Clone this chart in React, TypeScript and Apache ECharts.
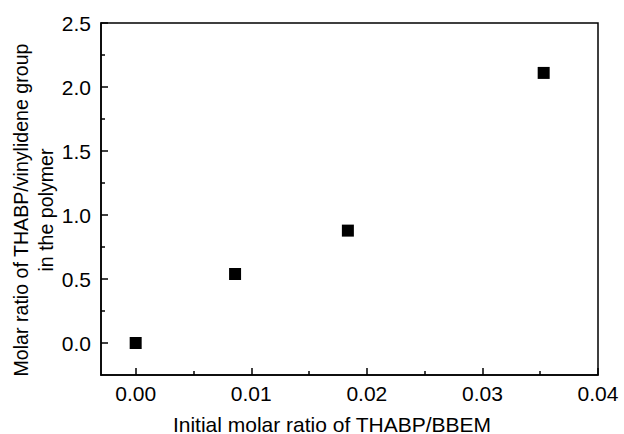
import React, { useEffect, useRef } from "react";
import * as echarts from "echarts";

const xValues = [0, 0.0086, 0.01836, 0.0353];
const yValues = [0, 0.539, 0.878, 2.11];
const xMajorTicks = [0, 0.01, 0.02, 0.03, 0.04];
const xMinorTicks = [0.005, 0.015, 0.025, 0.035];
const yMajorTicks = [0, 0.5, 1.0, 1.5, 2.0, 2.5];
const yMinorTicks = [0.25, 0.75, 1.25, 1.75, 2.25];
const xTitle = "Initial molar ratio of THABP/BBEM";
const yTitle1 = "Molar ratio of THABP/vinylidene group";
const yTitle2 = "in the polymer";

const FONT = "'Liberation Sans', Arial, sans-serif";

export default function App() {
  const ref = useRef<HTMLDivElement>(null);
  useEffect(() => {
    if (!ref.current) return;
    const chart = echarts.init(ref.current, null, { renderer: "svg" });
    const gridRect = { left: 101, right: 26, top: 23, bottom: 59 };
    const xBase = { min: -0.003, max: 0.04, type: "value" as const, position: "bottom" as const };
    const yBase = { min: -0.25, max: 2.5, type: "value" as const, position: "left" as const };
    const tickStyle = { color: "#000", width: 1.5 };
    chart.setOption({
      animation: false,
      grid: [
        {
          ...gridRect,
          show: true,
          borderColor: "#000",
          borderWidth: 1.5,
          backgroundColor: "transparent",
        },
        { ...gridRect, show: false },
      ],
      xAxis: [
        {
          ...xBase,
          gridIndex: 0,
          axisLine: { show: true, onZero: false, lineStyle: tickStyle },
          axisTick: { show: true, inside: true, length: 7, customValues: xMajorTicks, lineStyle: tickStyle },
          axisLabel: {
            show: true,
            customValues: xMajorTicks,
            margin: 8,
            color: "#000",
            fontSize: 21,
            fontFamily: FONT,
            formatter: (v: number) => v.toFixed(2),
          },
          splitLine: { show: false },
        },
        {
          ...xBase,
          gridIndex: 1,
          axisLine: { show: false, onZero: false },
          axisTick: { show: true, inside: true, length: 4, customValues: xMinorTicks, lineStyle: tickStyle },
          axisLabel: { show: false },
          splitLine: { show: false },
        },
      ],
      yAxis: [
        {
          ...yBase,
          gridIndex: 0,
          axisLine: { show: true, onZero: false, lineStyle: tickStyle },
          axisTick: { show: true, inside: true, length: 7, customValues: yMajorTicks, lineStyle: tickStyle },
          axisLabel: {
            show: true,
            customValues: yMajorTicks,
            margin: 10,
            color: "#000",
            fontSize: 21,
            fontFamily: FONT,
            formatter: (v: number) => v.toFixed(1),
          },
          splitLine: { show: false },
        },
        {
          ...yBase,
          gridIndex: 1,
          axisLine: { show: false, onZero: false },
          axisTick: { show: true, inside: true, length: 4, customValues: yMinorTicks, lineStyle: tickStyle },
          axisLabel: { show: false },
          splitLine: { show: false },
        },
      ],
      graphic: [
        {
          type: "text",
          x: 332,
          y: 424,
          style: {
            text: xTitle,
            fill: "#000",
            font: `21px ${FONT}`,
            textAlign: "center",
            textVerticalAlign: "middle",
          },
        },
        {
          type: "text",
          x: 21,
          y: 210,
          rotation: Math.PI / 2,
          style: {
            text: yTitle1,
            fill: "#000",
            font: `19.6px ${FONT}`,
            textAlign: "center",
            textVerticalAlign: "middle",
          },
        },
        {
          type: "text",
          x: 46,
          y: 210,
          rotation: Math.PI / 2,
          style: {
            text: yTitle2,
            fill: "#000",
            font: `19.6px ${FONT}`,
            textAlign: "center",
            textVerticalAlign: "middle",
          },
        },
      ],
      series: [
        {
          type: "scatter",
          xAxisIndex: 0,
          yAxisIndex: 0,
          symbol: "rect",
          symbolSize: 12,
          itemStyle: { color: "#000", opacity: 1 },
          data: xValues.map((x, i) => [x, yValues[i]]),
        },
      ],
    });
    return () => chart.dispose();
  }, []);
  return <div ref={ref} style={{ width: 624, height: 434, position: "absolute", left: 0, top: 0 }} />;
}
